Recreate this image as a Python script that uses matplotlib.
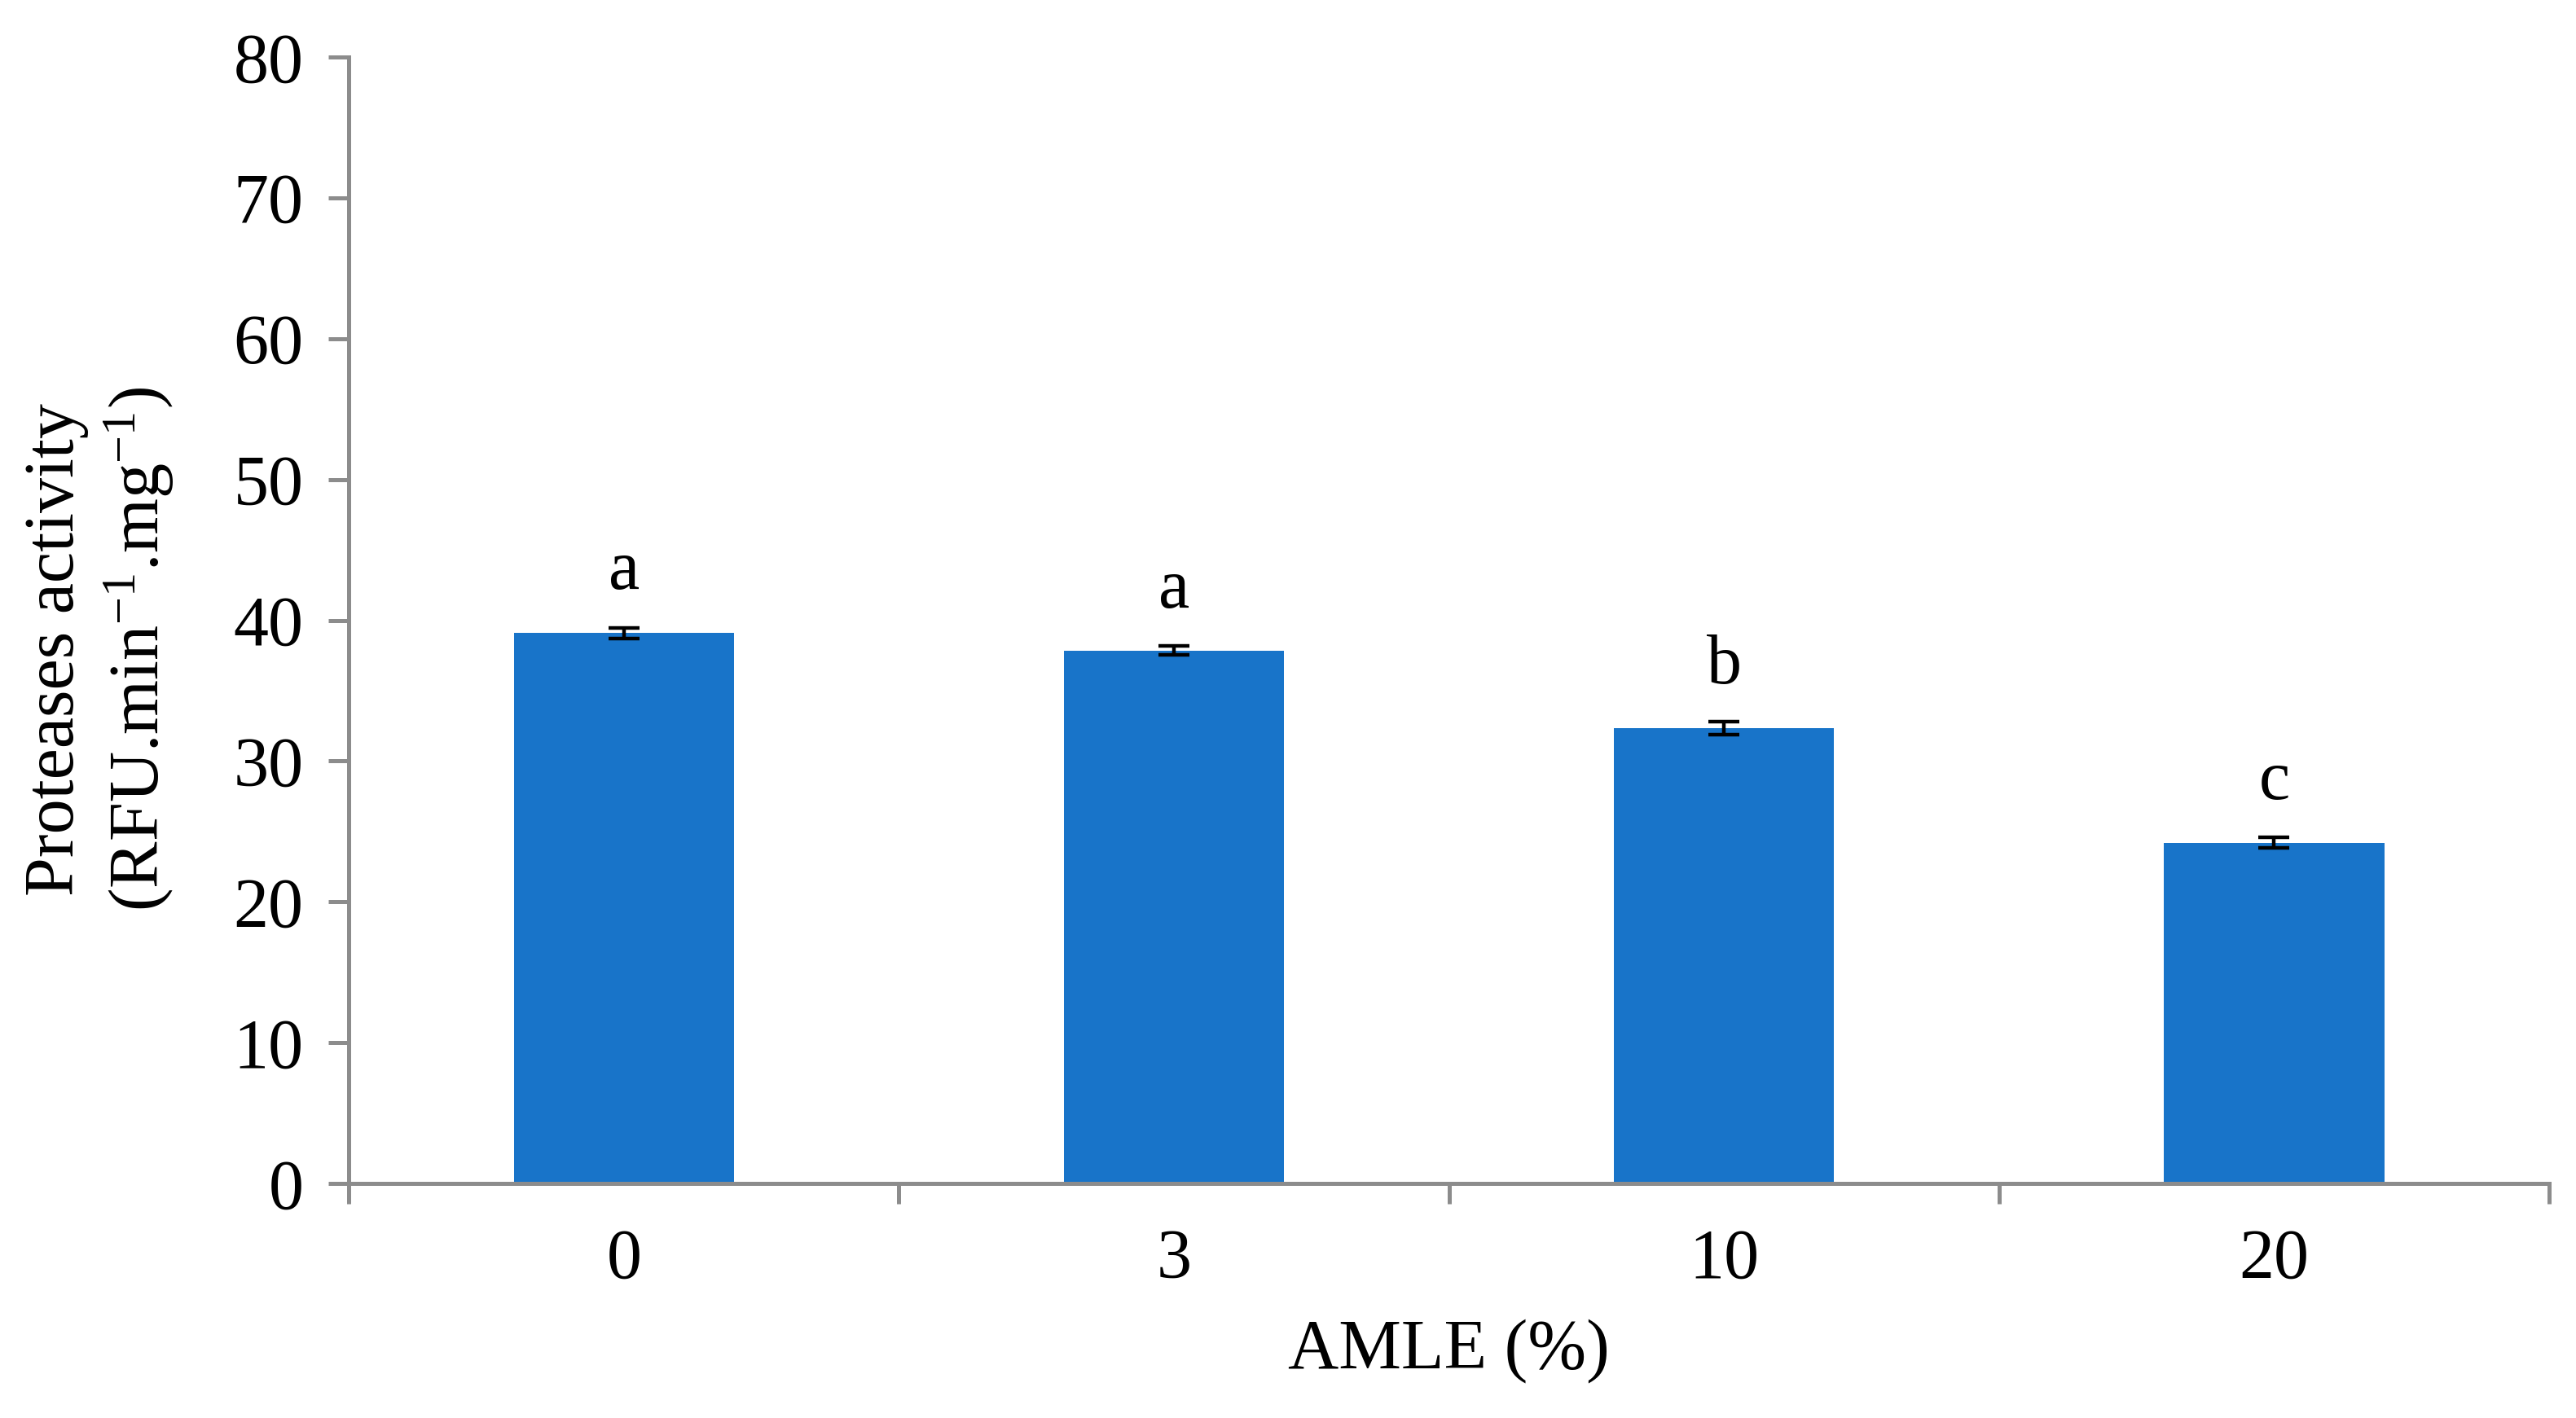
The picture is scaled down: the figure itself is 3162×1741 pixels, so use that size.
import matplotlib
matplotlib.use("Agg")
import matplotlib.pyplot as plt
import numpy as np

plt.rcParams['font.family'] = ['Liberation Serif', 'DejaVu Serif']
plt.rcParams['mathtext.fontset'] = 'custom'
plt.rcParams['mathtext.rm'] = 'Liberation Serif'

# data
categories = ['0', '3', '10', '20']
values = [39.1, 37.85, 32.35, 24.2]
errors = [0.38, 0.3, 0.45, 0.37]
letters = ['a', 'a', 'b', 'c']

bar_color = '#1874c9'
axis_color = '#8c8c8c'
fs = 62

fig = plt.figure(figsize=(31.62, 17.41), dpi=100)
ax = fig.add_axes([0.1354, 0.1654, 0.9896 - 0.1354, 0.9598 - 0.1654])

x = np.arange(len(categories))
ax.bar(x, values, width=0.40, color=bar_color, zorder=2)
ax.errorbar(x, values, yerr=errors, fmt='none', ecolor='black',
            elinewidth=3.2, capsize=13.7, capthick=3.2, zorder=3)

for xi, v, e, lab in zip(x, values, errors, letters):
    ax.annotate(lab, xy=(xi, v + e), xytext=(0, 34), textcoords='offset points',
                ha='center', va='baseline', fontsize=fs)

ax.set_xlim(-0.5, 3.5)
ax.set_ylim(0, 80)
ax.set_yticks(np.arange(0, 81, 10))
ax.set_xticks(np.arange(-0.5, 3.6, 1.0))
ax.set_xticklabels([])
ax.set_xticks(x, minor=True)
ax.set_xticklabels(categories, minor=True)

for s in ['top', 'right']:
    ax.spines[s].set_visible(False)
for s in ['left', 'bottom']:
    ax.spines[s].set_color(axis_color)
    ax.spines[s].set_linewidth(3.6)

ax.tick_params(axis='y', which='major', length=18, width=3.6, color=axis_color,
               labelsize=fs, pad=22)
ax.tick_params(axis='x', which='major', length=18, width=3.6, color=axis_color)
ax.tick_params(axis='x', which='minor', length=0, labelsize=fs, pad=40)

ax.set_xlabel('AMLE (%)', fontsize=fs, labelpad=22)

fig.text(0.022, 0.542, 'Proteases activity', rotation=90, fontsize=fs,
         ha='center', va='center')
fig.text(0.054, 0.542, r'(RFU.min$\mathregular{^{-1}}$.mg$\mathregular{^{-1}}$)',
         rotation=90, fontsize=fs, ha='center', va='center')

fig.savefig('out.png', dpi=100, facecolor='white')
